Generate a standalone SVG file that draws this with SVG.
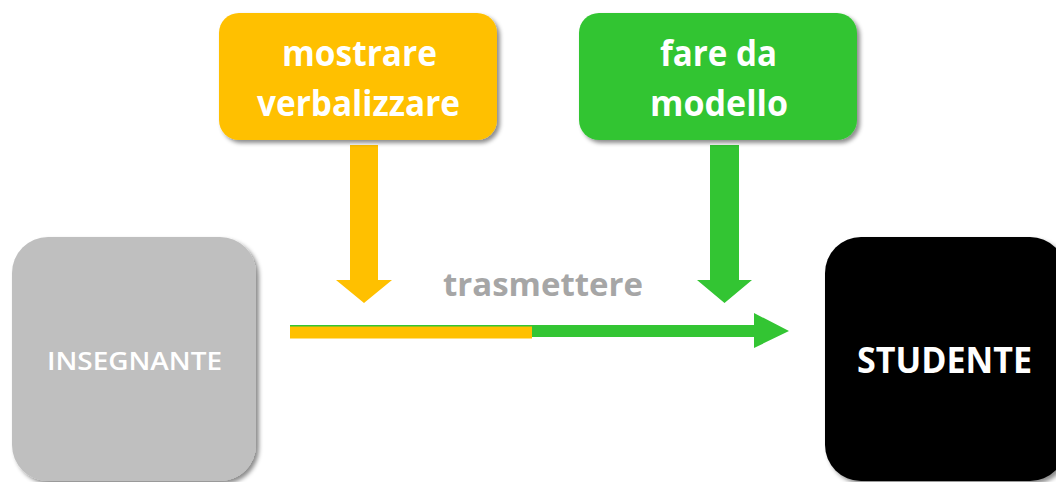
<svg xmlns="http://www.w3.org/2000/svg" width="1056" height="482" viewBox="0 0 1056 482">
  <defs>
    <filter id="sh" x="-10%" y="-10%" width="130%" height="130%">
      <feDropShadow dx="3" dy="3" stdDeviation="2.2" flood-color="#000" flood-opacity="0.45"/>
    </filter>
    <style>
      .t { font-family: "Open Sans", "Liberation Sans", sans-serif; fill: #ffffff; }
      .b { font-weight: bold; }
      .orange { fill: #FFC000; }
      .green { fill: #33C533; }
    </style>
  </defs>
  <rect width="1056" height="482" fill="#ffffff"/>

  <g id="connectors">
    <polygon class="orange" points="350,145 378,145 378,280 392,280 364,303 336,280 350,280"/>
    <polygon class="green" points="710,145 739,145 739,280 752,280 724.5,303 697,280 710,280"/>
    <polygon class="green" points="290,325 754,325 754,313 789,331 754,348 754,337 290,337"/>
    <rect class="orange" x="290" y="326.5" width="242" height="12"/>
    <text id="label-trasmettere" x="443" y="296" textLength="200" lengthAdjust="spacingAndGlyphs" font-family="'Open Sans', 'Liberation Sans', sans-serif" font-weight="bold" font-size="32" fill="#A6A6A6">trasmettere</text>
  </g>

  <g id="node-mostrare">
    <rect class="orange" x="219" y="13" width="278" height="127" rx="20" filter="url(#sh)"/>
    <text class="t b" x="282" y="66" font-size="36" textLength="155" lengthAdjust="spacingAndGlyphs">mostrare</text>
    <text class="t b" x="257" y="116" font-size="36" textLength="203" lengthAdjust="spacingAndGlyphs">verbalizzare</text>
  </g>

  <g id="node-fare">
    <rect class="green" x="579" y="13" width="278" height="127" rx="20" filter="url(#sh)"/>
    <text class="t b" x="660" y="66" font-size="36" textLength="117" lengthAdjust="spacingAndGlyphs">fare da</text>
    <text class="t b" x="650" y="116" font-size="36" textLength="138" lengthAdjust="spacingAndGlyphs">modello</text>
  </g>

  <g id="node-insegnante">
    <rect x="12" y="237" width="244" height="244" rx="36" fill="#BFBFBF" filter="url(#sh)"/>
    <text class="t" x="47" y="370" font-size="25" font-weight="600" textLength="175" lengthAdjust="spacingAndGlyphs">INSEGNANTE</text>
  </g>

  <g id="node-studente">
    <rect x="825" y="237" width="241" height="244" rx="36" fill="#000000" filter="url(#sh)"/>
    <text class="t b" x="857" y="373" font-size="36" textLength="175" lengthAdjust="spacingAndGlyphs">STUDENTE</text>
  </g>
</svg>
